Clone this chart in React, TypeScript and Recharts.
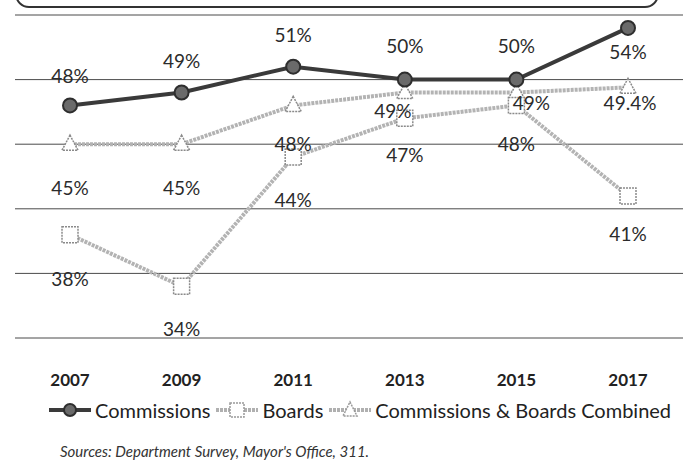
import React from "react";
import { LineChart, Line, XAxis, YAxis, CartesianGrid, LabelList } from "recharts";

const years = ["2007", "2009", "2011", "2013", "2015", "2017"];
const commissions = [48, 49, 51, 50, 50, 54];
const boards = [38, 34, 44, 47, 48, 41];
const combined = [45, 45, 48, 49, 49, 49.4];
const commissionsLabels = ["48%", "49%", "51%", "50%", "50%", "54%"];
const boardsLabels = ["38%", "34%", "44%", "47%", "48%", "41%"];
const combinedLabels = ["45%", "45%", "48%", "49%", "49%", "49.4%"];
const yTicks = [30, 35, 40, 45, 50, 55];

const data = years.map((y, i) => ({
  year: y,
  commissions: commissions[i],
  boards: boards[i],
  combined: combined[i],
}));

const FONT = "Lato, 'Open Sans', sans-serif";

// label placement (style, not data)
const comDy = [-30, -32, -32, -34, -34, 24];
const boardsDy = [44, 42, 42, 36, 38, 38];
const combDy = [43, 43, 38, 18, 10, 15];
const combDx = [0, 0, 0, -12, 15, 2];

const makeLabel = (texts: string[], dys: number[], dxs?: number[]) => (props: any) => {
  const { x, y, index } = props;
  return (
    <text
      x={x + (dxs ? dxs[index] : 0)}
      y={y + dys[index]}
      textAnchor="middle"
      dominantBaseline="central"
      fontFamily={FONT}
      fontSize={19}
      fill="#2b2b2b"
    >
      {texts[index]}
    </text>
  );
};

const CircleDot = (props: any) => {
  const { cx, cy } = props;
  if (cx == null || cy == null) return null;
  return <circle cx={cx} cy={cy} r={7} fill="#6a6a6a" stroke="#2e2e2e" strokeWidth={2} />;
};
const SquareDot = (props: any) => {
  const { cx, cy } = props;
  if (cx == null || cy == null) return null;
  return (
    <rect x={cx - 8} y={cy - 8} width={16} height={16} fill="#fff" stroke="#8a8a8a" strokeWidth={1.5} strokeDasharray="2 1" />
  );
};
const TriDot = (props: any) => {
  const { cx, cy } = props;
  if (cx == null || cy == null) return null;
  return (
    <path d={`M${cx},${cy - 9} L${cx + 8},${cy + 6} L${cx - 8},${cy + 6} Z`} fill="#fff" stroke="#8a8a8a" strokeWidth={1.5} strokeDasharray="2 1" />
  );
};

const legendItems = [
  { name: "Commissions", kind: "circle" },
  { name: "Boards", kind: "square" },
  { name: "Commissions & Boards Combined", kind: "tri" },
];

const LegendIcon = ({ kind }: { kind: string }) => (
  <svg width={46} height={20} style={{ display: "block" }}>
    {kind === "circle" ? (
      <>
        <line x1={2} y1={10} x2={44} y2={10} stroke="#3a3a3a" strokeWidth={4} />
        <circle cx={23} cy={10} r={6} fill="#6a6a6a" stroke="#2e2e2e" strokeWidth={2} />
      </>
    ) : kind === "square" ? (
      <>
        <line x1={2} y1={10} x2={44} y2={10} stroke="#b0b0b0" strokeWidth={4} strokeDasharray="3 1" />
        <rect x={16} y={3} width={14} height={14} fill="#fff" stroke="#999" strokeWidth={1.5} strokeDasharray="2 1" />
      </>
    ) : (
      <>
        <line x1={2} y1={10} x2={44} y2={10} stroke="#b0b0b0" strokeWidth={4} strokeDasharray="3 1" />
        <path d="M23,2 L30,16 L16,16 Z" fill="#fff" stroke="#999" strokeWidth={1.5} strokeDasharray="2 1" />
      </>
    )}
  </svg>
);

export default function App() {
  return (
    <div style={{ position: "absolute", left: 0, top: 0, width: 683, height: 470, background: "#fff", overflow: "hidden", fontFamily: FONT }}>
      <div
        style={{
          position: "absolute",
          left: 15,
          top: -40,
          width: 640,
          height: 44,
          border: "2px solid #333",
          borderRadius: 14,
        }}
      />
      <LineChart width={683} height={400} data={data} margin={{ top: 15, right: 0, left: 15, bottom: 0 }}>
        <CartesianGrid horizontal vertical={false} stroke="#4a4a4a" strokeWidth={1} />
        <YAxis hide domain={[30, 55]} ticks={yTicks} type="number" />
        <XAxis
          dataKey="year"
          axisLine={false}
          tickLine={false}
          tickSize={0}
          tickMargin={36}
          height={62}
          padding={{ left: 55, right: 55 }}
          tick={{ fontFamily: FONT, fontSize: 17, fontWeight: 700, fill: "#222" }}
        />
        <Line type="linear" dataKey="combined" stroke="#b3b3b3" strokeWidth={4} strokeDasharray="3 1" dot={<TriDot />} isAnimationActive={false}>
          <LabelList dataKey="combined" content={makeLabel(combinedLabels, combDy, combDx)} />
        </Line>
        <Line type="linear" dataKey="boards" stroke="#b3b3b3" strokeWidth={4} strokeDasharray="3 1" dot={<SquareDot />} isAnimationActive={false}>
          <LabelList dataKey="boards" content={makeLabel(boardsLabels, boardsDy)} />
        </Line>
        <Line type="linear" dataKey="commissions" stroke="#3a3a3a" strokeWidth={4} dot={<CircleDot />} isAnimationActive={false}>
          <LabelList dataKey="commissions" content={makeLabel(commissionsLabels, comDy)} />
        </Line>
      </LineChart>
      <div style={{ position: "absolute", left: 47, top: 398, display: "flex", alignItems: "center", whiteSpace: "nowrap", fontSize: 20, color: "#222" }}>
        {legendItems.map((it) => (
          <div key={it.name} style={{ display: "flex", alignItems: "center", marginRight: 4 }}>
            <LegendIcon kind={it.kind} />
            <span style={{ marginLeft: 2 }}>{it.name}</span>
          </div>
        ))}
      </div>
      <div style={{ position: "absolute", left: 60, top: 442, fontStyle: "italic", fontSize: 15, color: "#333" }}>
        Sources: Department Survey, Mayor's Office, 311.
      </div>
    </div>
  );
}
